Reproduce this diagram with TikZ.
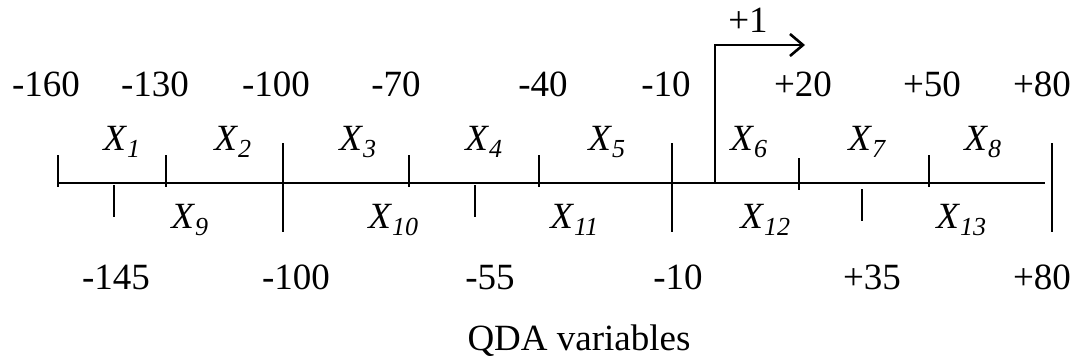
\documentclass[tikz,border=0pt]{standalone}
\usepackage{fontspec}
\setmainfont{Liberation Serif}
\usetikzlibrary{arrows.meta}
\newcommand{\xv}[1]{\textit{X}\raisebox{-7pt}{\fontsize{26}{26}\selectfont\itshape #1}}
\begin{document}
\begin{tikzpicture}[x=1pt,y=-1pt,line width=2.6pt,
  num/.style={font=\fontsize{37}{42}\selectfont,anchor=base,inner sep=0pt},
  var/.style={font=\fontsize{37}{42}\selectfont,anchor=base west,inner sep=0pt},
  ln/.style={line width=2.6pt}]
\useasboundingbox (0,0) rectangle (1074,359);
% main axis
\coordinate (L) at (58,183);
\coordinate (R) at (1045,183);
\draw[ln] (L) -- (R);
% upper short ticks
\foreach \x in {58,166,409,539,929}{\draw[ln] (\x,155) -- (\x,187);}
\draw[ln] (799,158) -- (799,190);
% long ticks
\foreach \x in {283,672,1052}{\draw[ln] (\x,143) -- (\x,232);}
% lower short ticks
\foreach \x in {114,475}{\draw[ln] (\x,185) -- (\x,217);}
\draw[ln] (862,189) -- (862,221);
% +1 arrow
\coordinate (a0) at (715,183);
\coordinate (a1) at (715,45);
\coordinate (a2) at (805,45);
\draw[ln,line join=miter,-{Straight Barb[length=13pt,width=22pt,line width=2.6pt]}] (a0) -- (a1) -- (a2);
\node[num] (p1) at (748,32) {+1};
% top numbers
\node[num] (t1) at (46,96) {-160};
\node[num] (t2) at (155,96) {-130};
\node[num] (t3) at (276,96) {-100};
\node[num] (t4) at (396,96) {-70};
\node[num] (t5) at (543,96) {-40};
\node[num] (t6) at (666,96) {-10};
\node[num] (t7) at (803,96) {+20};
\node[num] (t8) at (932,96) {+50};
\node[num] (t9) at (1042,96) {+80};
% bottom numbers
\node[num] (b1) at (116,289) {-145};
\node[num] (b2) at (296,289) {-100};
\node[num] (b3) at (490,289) {-55};
\node[num] (b4) at (678,289) {-10};
\node[num] (b5) at (872,289) {+35};
\node[num] (b6) at (1042,289) {+80};
% variable labels
\node[var] (x1) at (102,150) {\xv{1}};
\node[var] (x2) at (213,150) {\xv{2}};
\node[var] (x3) at (338,150) {\xv{3}};
\node[var] (x4) at (464,150) {\xv{4}};
\node[var] (x5) at (587,150) {\xv{5}};
\node[var] (x6) at (729,150) {\xv{6}};
\node[var] (x7) at (847,150) {\xv{7}};
\node[var] (x8) at (963,150) {\xv{8}};
\node[var] (x9) at (170,228) {\xv{9}};
\node[var] (x10) at (367,228) {\xv{10}};
\node[var] (x11) at (549,228) {\xv{11}};
\node[var] (x12) at (739,228) {\xv{12}};
\node[var] (x13) at (935,228) {\xv{13}};
% caption
\node[num] (cap) at (579,350) {QDA variables};
\end{tikzpicture}
\end{document}
